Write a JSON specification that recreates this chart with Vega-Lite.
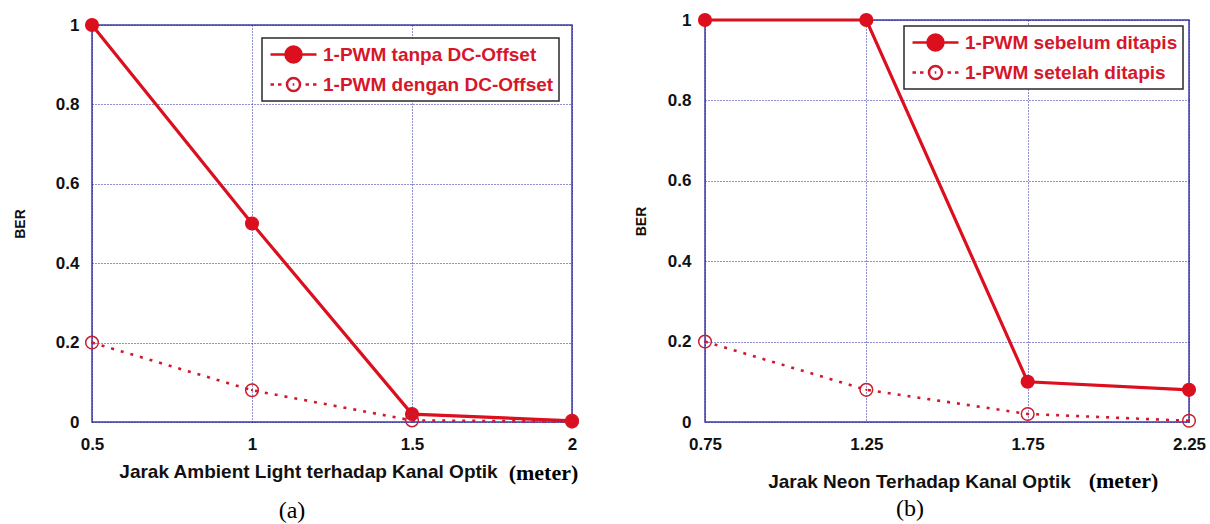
{
  "$schema": "https://vega.github.io/schema/vega-lite/v6.json",
  "background": "white",
  "padding": {"left": 12, "top": 10, "right": 5, "bottom": 2},
  "datasets": {
    "a": [
      {"x": 0.5, "y": 1, "s": "1-PWM tanpa DC-Offset"},
      {"x": 1, "y": 0.5, "s": "1-PWM tanpa DC-Offset"},
      {"x": 1.5, "y": 0.02, "s": "1-PWM tanpa DC-Offset"},
      {"x": 2, "y": 0.003, "s": "1-PWM tanpa DC-Offset"},
      {"x": 0.5, "y": 0.2, "s": "1-PWM dengan DC-Offset"},
      {"x": 1, "y": 0.08, "s": "1-PWM dengan DC-Offset"},
      {"x": 1.5, "y": 0.004, "s": "1-PWM dengan DC-Offset"},
      {"x": 2, "y": 0.001, "s": "1-PWM dengan DC-Offset"}
    ],
    "b": [
      {"x": 0.75, "y": 1, "s": "1-PWM sebelum ditapis"},
      {"x": 1.25, "y": 1, "s": "1-PWM sebelum ditapis"},
      {"x": 1.75, "y": 0.1, "s": "1-PWM sebelum ditapis"},
      {"x": 2.25, "y": 0.08, "s": "1-PWM sebelum ditapis"},
      {"x": 0.75, "y": 0.2, "s": "1-PWM setelah ditapis"},
      {"x": 1.25, "y": 0.08, "s": "1-PWM setelah ditapis"},
      {"x": 1.75, "y": 0.02, "s": "1-PWM setelah ditapis"},
      {"x": 2.25, "y": 0.003, "s": "1-PWM setelah ditapis"}
    ]
  },
  "config": {
    "font": "Liberation Sans",
    "view": {"stroke": "#3e3ea6", "strokeWidth": 1.5},
    "axis": {
      "grid": true, "gridColor": "#23239a", "gridDash": [1, 2], "gridWidth": 1, "gridOpacity": 1,
      "domain": false, "ticks": false,
      "labelFont": "Liberation Sans", "labelFontWeight": "bold", "labelFontSize": 17, "labelColor": "#111",
      "titleFont": "Liberation Sans", "titleFontWeight": "bold", "titleFontSize": 19, "titleColor": "#111"
    },
    "legend": {"strokeWidth": 1.5}
  },
  "spacing": 50,
  "resolve": {
    "scale": {"shape": "independent", "fill": "independent", "stroke": "independent"},
    "legend": {"shape": "independent", "fill": "independent", "stroke": "independent"}
  },
  "hconcat": [
    {
      "spacing": 0,
      "bounds": "flush",
      "resolve": {
        "scale": {"shape": "independent", "fill": "independent", "stroke": "independent"},
        "legend": {"shape": "independent", "fill": "independent", "stroke": "independent"}
      },
      "vconcat": [
        {
          "width": 480,
          "height": 5,
          "data": {"values": []},
          "mark": {"type": "point"},
          "view": {"stroke": null}
        },
        {
          "width": 480,
          "height": 397,
          "data": {"name": "a"},
          "title": {"text": "(a)", "orient": "bottom", "font": "Liberation Serif", "fontSize": 24, "fontWeight": "normal", "color": "#000", "dx": -40, "offset": 16},
          "resolve": {"axis": {"x": "independent"}},
          "layer": [
            {
              "encoding": {
                "x": {"field": "x", "type": "quantitative", "scale": {"domain": [0.5, 2], "nice": false, "zero": false},
                  "axis": {"orient": "bottom", "values": [0.5, 1, 1.5, 2], "labelExpr": "'' + datum.value", "labelPadding": 14, "labelFlush": false,
                    "title": "Jarak Ambient Light terhadap Kanal Optik", "titleX": 216, "titleY": 49, "titleBaseline": "middle", "titleAlign": "center"}},
                "y": {"field": "y", "type": "quantitative", "scale": {"domain": [0, 1], "nice": false},
                  "axis": {"values": [0, 0.2, 0.4, 0.6, 0.8, 1], "labelExpr": "'' + datum.value", "labelPadding": 13, "labelFlush": false,
                    "title": "BER", "titleFontSize": 14, "titleX": -72, "titleY": 198.5, "titleBaseline": "middle", "titleAlign": "center", "titleAngle": -90}}
              },
              "layer": [
                {"transform": [{"filter": "datum.s === '1-PWM tanpa DC-Offset'"}], "mark": {"type": "line", "color": "#dc0f1e", "strokeWidth": 3.2}},
                {"transform": [{"filter": "datum.s === '1-PWM dengan DC-Offset'"}], "mark": {"type": "line", "color": "#d0192c", "strokeWidth": 2.6, "strokeDash": [3, 7]}},
                {"transform": [{"filter": "datum.s === '1-PWM tanpa DC-Offset'"}], "mark": {"type": "point", "filled": true, "color": "#dc0f1e", "size": 200, "opacity": 1}},
                {"transform": [{"filter": "datum.s === '1-PWM dengan DC-Offset'"}], "mark": {"type": "point", "filled": false, "color": "#c81e32", "size": 160, "strokeWidth": 1.5, "opacity": 1}},
                {"transform": [{"filter": "datum.s === '1-PWM dengan DC-Offset'"}], "mark": {"type": "point", "filled": true, "color": "#c81e32", "size": 5, "opacity": 1}}
              ]
            },
            {
              "transform": [{"filter": "false"}],
              "mark": {"type": "point", "filled": true, "strokeWidth": 2.5, "opacity": 1},
              "encoding": {
                "x": {"field": "x", "type": "quantitative", "scale": {"domain": [0.5, 2], "nice": false, "zero": false},
                  "axis": {"orient": "top", "labels": false, "grid": false, "domain": false, "ticks": false,
                    "title": "(meter)", "titleFont": "Liberation Serif", "titleFontSize": 22, "titleFontWeight": "bold", "titleColor": "#000",
                    "titleX": 451, "titleY": 447, "titleBaseline": "middle", "titleAlign": "center"}},
                "shape": {"field": "s", "type": "nominal",
                  "scale": {"domain": ["1-PWM tanpa DC-Offset", "1-PWM dengan DC-Offset"],
                    "range": ["M-2.3,0L-0.8,0M0.8,0L2.3,0M0.8,0A0.8,0.8,0,1,1,-0.8,0A0.8,0.8,0,1,1,0.8,0Z",
                              "M-2.3,0L-1.95,0M-1.55,0L-1.2,0M1.2,0L1.55,0M1.95,0L2.3,0M0.65,0A0.65,0.65,0,1,1,-0.65,0A0.65,0.65,0,1,1,0.65,0ZM-0.08,0L0.08,0"]},
                  "legend": {"title": null, "orient": "top-right", "offset": 13, "padding": 5, "rowPadding": 5, "symbolSize": 400,
                    "symbolStrokeWidth": 2.5, "symbolOffset": 15, "labelOffset": 18,
                    "labelFont": "Liberation Sans", "labelFontSize": 19, "labelFontWeight": "bold", "labelColor": "#d6172b", "labelLimit": 500,
                    "strokeColor": "#2a2a2a", "fillColor": "white"}},
                "fill": {"field": "s", "type": "nominal",
                  "scale": {"domain": ["1-PWM tanpa DC-Offset", "1-PWM dengan DC-Offset"], "range": ["#dc0f1e", "rgba(255,255,255,0)"]},
                  "legend": {"title": null, "orient": "top-right", "offset": 13, "padding": 5, "rowPadding": 5, "symbolSize": 400,
                    "symbolStrokeWidth": 2.5, "symbolOffset": 15, "labelOffset": 18,
                    "labelFont": "Liberation Sans", "labelFontSize": 19, "labelFontWeight": "bold", "labelColor": "#d6172b", "labelLimit": 500,
                    "strokeColor": "#2a2a2a", "fillColor": "white"}},
                "stroke": {"field": "s", "type": "nominal",
                  "scale": {"domain": ["1-PWM tanpa DC-Offset", "1-PWM dengan DC-Offset"], "range": ["#dc0f1e", "#d0192c"]},
                  "legend": {"title": null, "orient": "top-right", "offset": 13, "padding": 5, "rowPadding": 5, "symbolSize": 400,
                    "symbolStrokeWidth": 2.5, "symbolOffset": 15, "labelOffset": 18,
                    "labelFont": "Liberation Sans", "labelFontSize": 19, "labelFontWeight": "bold", "labelColor": "#d6172b", "labelLimit": 500,
                    "strokeColor": "#2a2a2a", "fillColor": "white"}}
              }
            }
          ]
        }
      ]
    },
    {
      "width": 484,
      "height": 402,
      "data": {"name": "b"},
      "title": {"text": "(b)", "orient": "bottom", "font": "Liberation Serif", "fontSize": 24, "fontWeight": "normal", "color": "#000", "dx": -37, "offset": 6},
      "resolve": {"axis": {"x": "independent"}},
      "layer": [
        {
          "encoding": {
            "x": {"field": "x", "type": "quantitative", "scale": {"domain": [0.75, 2.25], "nice": false, "zero": false},
              "axis": {"orient": "bottom", "values": [0.75, 1.25, 1.75, 2.25], "labelExpr": "'' + datum.value", "labelPadding": 14, "labelFlush": false,
                "title": "Jarak Neon Terhadap Kanal Optik", "titleX": 214, "titleY": 59, "titleBaseline": "middle", "titleAlign": "center"}},
            "y": {"field": "y", "type": "quantitative", "scale": {"domain": [0, 1], "nice": false},
              "axis": {"values": [0, 0.2, 0.4, 0.6, 0.8, 1], "labelExpr": "'' + datum.value", "labelPadding": 14, "labelFlush": false,
                "title": "BER", "titleFontSize": 14, "titleX": -64, "titleY": 201, "titleBaseline": "middle", "titleAlign": "center", "titleAngle": -90}}
          },
          "layer": [
            {"transform": [{"filter": "datum.s === '1-PWM sebelum ditapis'"}], "mark": {"type": "line", "color": "#dc0f1e", "strokeWidth": 3.2}},
            {"transform": [{"filter": "datum.s === '1-PWM setelah ditapis'"}], "mark": {"type": "line", "color": "#d0192c", "strokeWidth": 2.6, "strokeDash": [3, 7]}},
            {"transform": [{"filter": "datum.s === '1-PWM sebelum ditapis'"}], "mark": {"type": "point", "filled": true, "color": "#dc0f1e", "size": 200, "opacity": 1}},
            {"transform": [{"filter": "datum.s === '1-PWM setelah ditapis'"}], "mark": {"type": "point", "filled": false, "color": "#c81e32", "size": 160, "strokeWidth": 1.5, "opacity": 1}},
            {"transform": [{"filter": "datum.s === '1-PWM setelah ditapis'"}], "mark": {"type": "point", "filled": true, "color": "#c81e32", "size": 5, "opacity": 1}}
          ]
        },
        {
          "transform": [{"filter": "false"}],
          "mark": {"type": "point", "filled": true, "strokeWidth": 2.5, "opacity": 1},
          "encoding": {
            "x": {"field": "x", "type": "quantitative", "scale": {"domain": [0.75, 2.25], "nice": false, "zero": false},
              "axis": {"orient": "top", "labels": false, "grid": false, "domain": false, "ticks": false,
                "title": "(meter)", "titleFont": "Liberation Serif", "titleFontSize": 22, "titleFontWeight": "bold", "titleColor": "#000",
                "titleX": 418, "titleY": 460, "titleBaseline": "middle", "titleAlign": "center"}},
            "shape": {"field": "s", "type": "nominal",
              "scale": {"domain": ["1-PWM sebelum ditapis", "1-PWM setelah ditapis"],
                "range": ["M-2.3,0L-0.8,0M0.8,0L2.3,0M0.8,0A0.8,0.8,0,1,1,-0.8,0A0.8,0.8,0,1,1,0.8,0Z",
                          "M-2.3,0L-1.95,0M-1.55,0L-1.2,0M1.2,0L1.55,0M1.95,0L2.3,0M0.65,0A0.65,0.65,0,1,1,-0.65,0A0.65,0.65,0,1,1,0.65,0ZM-0.08,0L0.08,0"]},
              "legend": {"title": null, "orient": "top-right", "offset": 6, "padding": 5, "rowPadding": 5, "symbolSize": 400,
                "symbolStrokeWidth": 2.5, "symbolOffset": 15, "labelOffset": 18,
                "labelFont": "Liberation Sans", "labelFontSize": 19, "labelFontWeight": "bold", "labelColor": "#d6172b", "labelLimit": 500,
                "strokeColor": "#2a2a2a", "fillColor": "white"}},
            "fill": {"field": "s", "type": "nominal",
              "scale": {"domain": ["1-PWM sebelum ditapis", "1-PWM setelah ditapis"], "range": ["#dc0f1e", "rgba(255,255,255,0)"]},
              "legend": {"title": null, "orient": "top-right", "offset": 6, "padding": 5, "rowPadding": 5, "symbolSize": 400,
                "symbolStrokeWidth": 2.5, "symbolOffset": 15, "labelOffset": 18,
                "labelFont": "Liberation Sans", "labelFontSize": 19, "labelFontWeight": "bold", "labelColor": "#d6172b", "labelLimit": 500,
                "strokeColor": "#2a2a2a", "fillColor": "white"}},
            "stroke": {"field": "s", "type": "nominal",
              "scale": {"domain": ["1-PWM sebelum ditapis", "1-PWM setelah ditapis"], "range": ["#dc0f1e", "#d0192c"]},
              "legend": {"title": null, "orient": "top-right", "offset": 6, "padding": 5, "rowPadding": 5, "symbolSize": 400,
                "symbolStrokeWidth": 2.5, "symbolOffset": 15, "labelOffset": 18,
                "labelFont": "Liberation Sans", "labelFontSize": 19, "labelFontWeight": "bold", "labelColor": "#d6172b", "labelLimit": 500,
                "strokeColor": "#2a2a2a", "fillColor": "white"}}
          }
        }
      ]
    }
  ]
}
